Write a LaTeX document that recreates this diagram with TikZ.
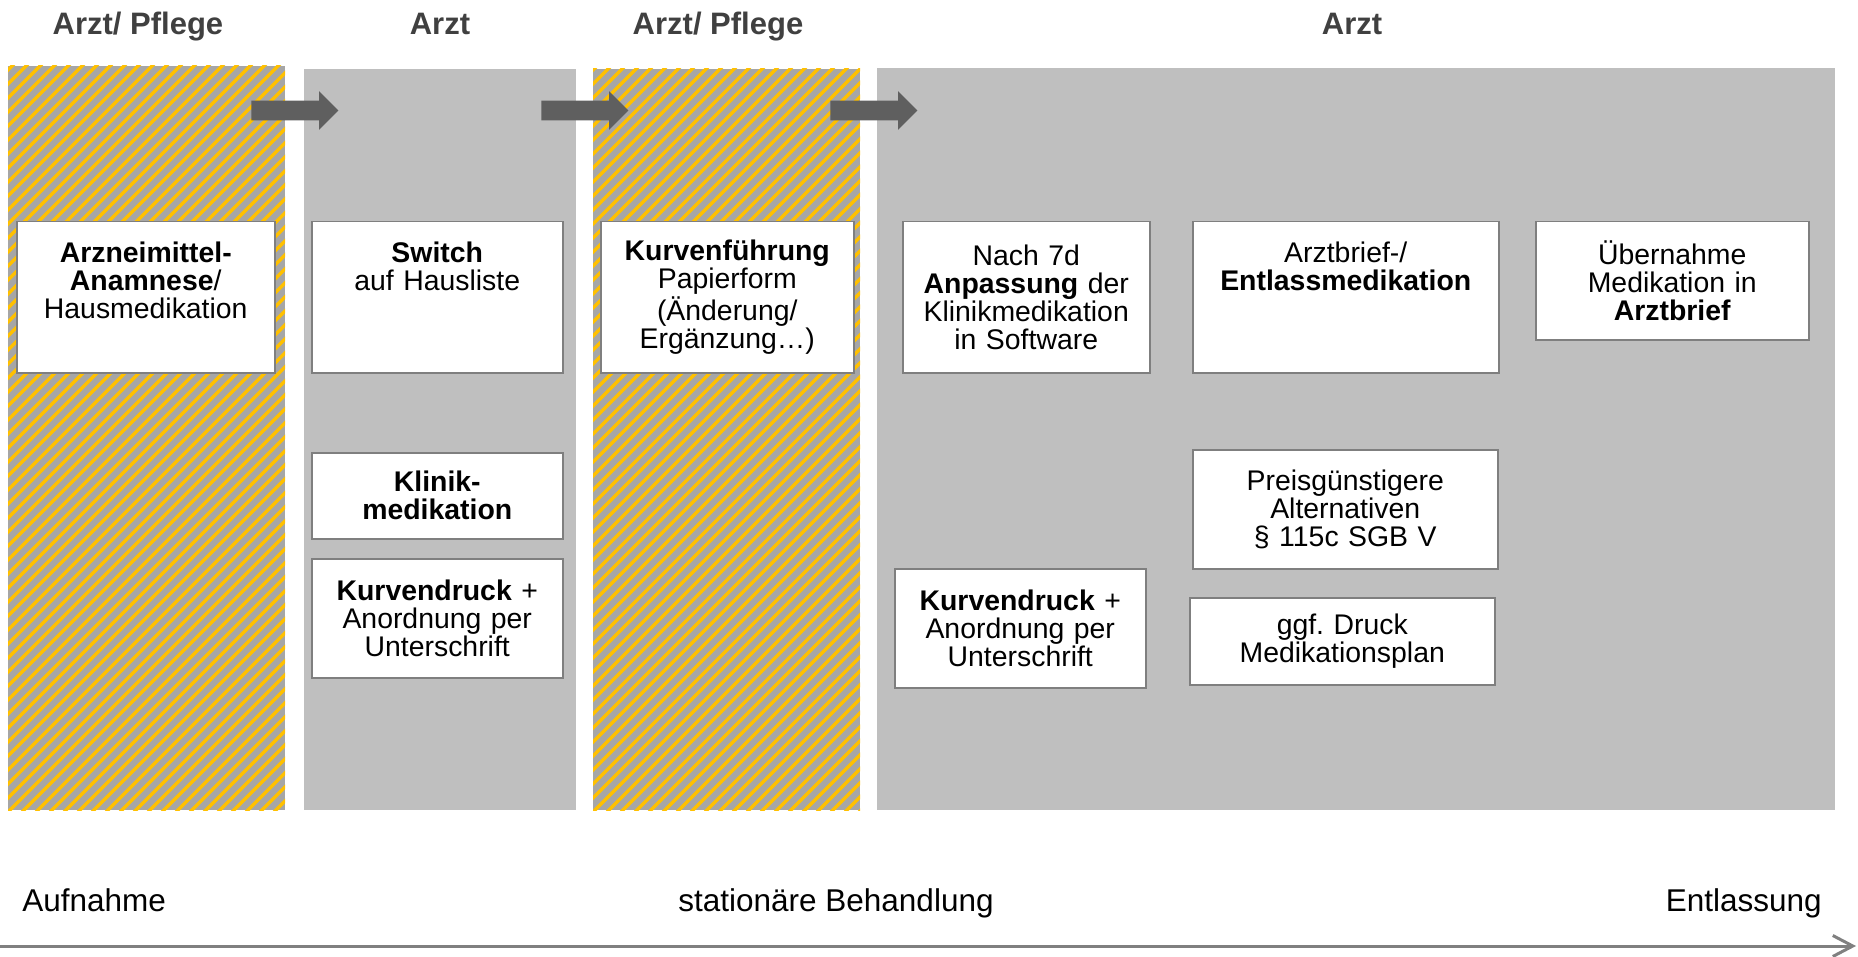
\documentclass[tikz,border=0pt]{standalone}
\usepackage{fontspec}
\setmainfont{Liberation Sans}
\usetikzlibrary{shapes.arrows,arrows.meta}

\definecolor{spaltengrau}{HTML}{BFBFBF}
\definecolor{schraffurgrau}{HTML}{A6A6A6}
\definecolor{gelb}{HTML}{FFC000}
\definecolor{pfeilgrau}{HTML}{5F5F5F}
\definecolor{rahmengrau}{HTML}{7F7F7F}
\definecolor{kopfgrau}{HTML}{404040}
\definecolor{achsengrau}{HTML}{808080}

\begin{document}
\begin{tikzpicture}[x=0.5pt, y=-0.5pt,
    kasten/.style = {draw=rahmengrau, line width=0.75pt, fill=white, anchor=north west, align=center, inner sep=0pt, font=\fontsize{14.2pt}{14pt}\selectfont\frenchspacing},
    oben/.style = {text height=20.5pt, text depth=55pt},
    kopf/.style = {text=kopfgrau, anchor=base, inner sep=0pt, font=\fontsize{15.5pt}{18pt}\selectfont\bfseries},
    zeit/.style = {anchor=base, inner sep=0pt, font=\fontsize{15.75pt}{18pt}\selectfont},
    blockpfeil/.style = {single arrow, fill=pfeilgrau, anchor=tail, inner xsep=0pt, inner ysep=4.75pt, single arrow head extend=4.75pt, minimum height=43.5pt}]
    \useasboundingbox (0,0) rectangle (1858,957);

    % Spalten
    \begin{scope}
        \clip (8,66) rectangle (285,810);
        \fill[schraffurgrau] (8,66) rectangle (285,810);
        \foreach \s in {-756,-742,...,290}
            \draw[gelb, line width=1.7pt] (8+\s,812) -- ++(800,-800);
    \end{scope}
    \fill[spaltengrau] (304,69) rectangle (576,810);
    \begin{scope}
        \clip (593,69) rectangle (860,810);
        \fill[schraffurgrau] (593,69) rectangle (860,810);
        \foreach \s in {-756,-742,...,280}
            \draw[gelb, line width=1.7pt] (593+\s,812) -- ++(800,-800);
    \end{scope}
    \fill[spaltengrau] (877,68) rectangle (1835,810);

    % Kopfzeile
    \node[kopf] (kopfA) at (138,35) {Arzt/ Pflege};
    \node[kopf] (kopfB) at (440,35) {Arzt};
    \node[kopf] (kopfC) at (718,35) {Arzt/ Pflege};
    \node[kopf] (kopfD) at (1352,35) {Arzt};

    % Pfeile
    \node[blockpfeil] (pfeilA) at (251,110.5) {};
    \node[blockpfeil] (pfeilB) at (541,110.5) {};
    \node[blockpfeil] (pfeilC) at (830,110.5) {};

    % Kaesten
    \node[kasten, oben, text width=129pt] (anamnese) at (16,221) {\textbf{Arzneimittel-}\\\textbf{Anamnese}/\\Hausmedikation};
    \node[kasten, oben, text width=125.5pt] (switch) at (311,221) {\textbf{Switch}\\auf Hausliste};
    \node[kasten, text width=125.5pt, minimum height=43pt] (klinik) at (311,452) {\textbf{Klinik-}\\\textbf{medikation}};
    \node[kasten, text width=125.5pt, minimum height=59.5pt] (druckA) at (311,558) {\textbf{Kurvendruck} +\\Anordnung per\\Unterschrift};
    \node[kasten, text width=126.5pt, minimum height=75.5pt] (kurve) at (600,221) {\textbf{Kurvenführung}\\Papierform\\(Änderung/\\Ergänzung…)};
    \node[kasten, text width=123.5pt, minimum height=75.5pt] (anpassung) at (902,221) {Nach 7d\\\textbf{Anpassung} der\\Klinikmedikation\\in Software};
    \node[kasten, text width=125.5pt, minimum height=59.5pt] (druckB) at (894,568) {\textbf{Kurvendruck} +\\Anordnung per\\Unterschrift};
    \node[kasten, oben, text width=153pt] (entlass) at (1192,221) {Arztbrief-/\\\textbf{Entlassmedikation}};
    \node[kasten, text width=152.5pt, minimum height=59.5pt] (preis) at (1192,449) {Preisgünstigere\\Alternativen\\§ 115c SGB V};
    \node[kasten, text width=152.5pt, minimum height=43.5pt] (plan) at (1189,597) {ggf. Druck\\Medikationsplan};
    \node[kasten, text width=136.5pt, minimum height=59pt] (arztbrief) at (1535,221) {Übernahme\\Medikation in\\\textbf{Arztbrief}};

    % Zeitachse
    \node[zeit, anchor=base west] (aufnahme) at (22,911) {Aufnahme};
    \node[zeit] (stationaer) at (836,911) {stationäre Behandlung};
    \node[zeit, anchor=base east] (entlassung) at (1822,911) {Entlassung};
    \coordinate (anfang) at (0,946);
    \coordinate (ende) at (1856,946);
    \draw[achsengrau, line width=1.5pt, -{Straight Barb[length=10pt,width=10.5pt]}] (anfang) -- (ende);
\end{tikzpicture}
\end{document}
